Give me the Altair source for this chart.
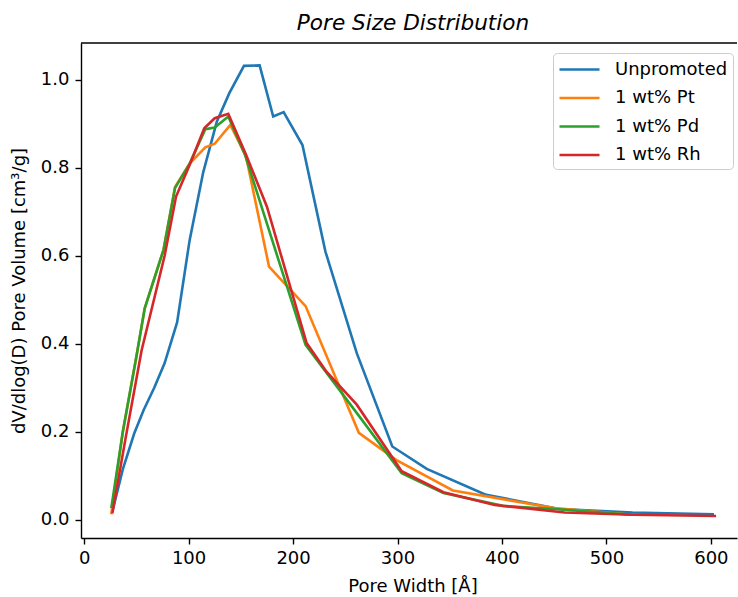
import altair as alt
import pandas as pd

series_names = ["Unpromoted", "1 wt% Pt", "1 wt% Pd", "1 wt% Rh"]
series_colors = ["#1f77b4", "#ff7f0e", "#2ca02c", "#d62728"]

x_unpromoted = [27, 37, 48, 57, 67, 77, 89, 101, 114, 127, 139, 153, 168, 181, 191, 209, 231, 261, 295, 328, 385, 455, 525, 603]
y_unpromoted = [0.019, 0.115, 0.197, 0.25, 0.3, 0.356, 0.449, 0.636, 0.79, 0.905, 0.97, 1.032, 1.033, 0.917, 0.927, 0.852, 0.61, 0.379, 0.167, 0.116, 0.057, 0.025, 0.017, 0.013]

x_pt = [26, 37, 50, 58, 76, 87, 101, 116, 125, 140, 155, 177, 212, 263, 299, 353, 450, 525]
y_pt = [0.013, 0.2, 0.371, 0.481, 0.614, 0.757, 0.81, 0.847, 0.855, 0.898, 0.826, 0.576, 0.486, 0.198, 0.136, 0.067, 0.027, 0.012]

x_pd = [26, 37, 50, 58, 76, 87, 101, 116, 125, 138, 154, 212, 262, 304, 344, 401, 450, 525]
y_pd = [0.027, 0.2, 0.371, 0.481, 0.614, 0.754, 0.81, 0.888, 0.892, 0.917, 0.83, 0.398, 0.24, 0.106, 0.061, 0.032, 0.025, 0.012]

x_rh = [27, 40, 55, 77, 88, 101, 115, 125, 138, 155, 175, 213, 232, 261, 304, 344, 393, 460, 525, 605]
y_rh = [0.015, 0.19, 0.385, 0.6, 0.735, 0.807, 0.89, 0.913, 0.923, 0.83, 0.712, 0.402, 0.337, 0.262, 0.111, 0.063, 0.034, 0.017, 0.012, 0.009]

x_ticks = [0, 100, 200, 300, 400, 500, 600]
y_ticks = [0.0, 0.2, 0.4, 0.6, 0.8, 1.0]

rows = []
for name, xs, ys in zip(series_names,
                        [x_unpromoted, x_pt, x_pd, x_rh],
                        [y_unpromoted, y_pt, y_pd, y_rh]):
    for i, (a, b) in enumerate(zip(xs, ys)):
        rows.append({"series": name, "width": a, "volume": b, "idx": i})
df = pd.DataFrame(rows)

W, H = 656, 495
FONT = "DejaVu Sans"
FS = 18

lines = alt.Chart(df).mark_line(strokeWidth=2.6).encode(
    x=alt.X("width:Q", scale=alt.Scale(domain=[-3, 625], nice=False, zero=False),
            axis=alt.Axis(title="Pore Width [Å]", values=x_ticks, format="d", grid=False,
                          tickSize=6, tickColor="black", domainColor="black",
                          labelColor="black", labelFontSize=FS, labelPadding=5,
                          titleFontSize=FS, titleFontWeight="normal", titleColor="black",
                          titleBaseline="alphabetic", titleX=331.5, titleY=53.5,
                          labelFlush=False)),
    y=alt.Y("volume:Q", scale=alt.Scale(domain=[-0.041, 1.084], nice=False, zero=False),
            axis=alt.Axis(title="dV/dlog(D) Pore Volume [cm³/g]", values=y_ticks, format=".1f",
                          grid=False, tickSize=6, tickColor="black", domainColor="black",
                          labelColor="black", labelFontSize=FS, labelPadding=6,
                          titleFontSize=FS, titleFontWeight="normal", titleColor="black",
                          titleBaseline="alphabetic", titleX=-57, titleY=247.5)),
    color=alt.Color("series:N", scale=alt.Scale(domain=series_names, range=series_colors),
                    legend=alt.Legend(title=None, orient="none", legendX=472, legendY=10,
                                      symbolType="M-1,0H3", symbolSize=400, symbolStrokeWidth=2.6,
                                      labelFontSize=FS, labelColor="black", labelOffset=34,
                                      fillColor="white", strokeColor="#cccccc", cornerRadius=4,
                                      padding=5, rowPadding=7.5)),
    detail="series:N",
    order="idx:Q",
)

top_spine = alt.Chart(pd.DataFrame({"s": [0]})).mark_rule(color="black", strokeWidth=1.4).encode(
    x=alt.value(0), x2=alt.value(W), y=alt.value(0)
)

chart = alt.layer(lines, top_spine).properties(
    width=W, height=H,
    title=alt.TitleParams("Pore Size Distribution", fontSize=21.6, fontStyle="italic",
                          fontWeight="normal", font=FONT, color="black", offset=8, dx=4),
    padding={"left": 81, "top": 43, "right": 1, "bottom": 59},
    autosize=alt.AutoSizeParams(type="none"),
).configure(font=FONT).configure_view(stroke=None).configure_axis(
    labelFont=FONT, titleFont=FONT, domainWidth=1.4, tickWidth=1.4
).configure_legend(labelFont=FONT)

chart.save("out.html", embed_options={"renderer": "svg", "actions": False})
